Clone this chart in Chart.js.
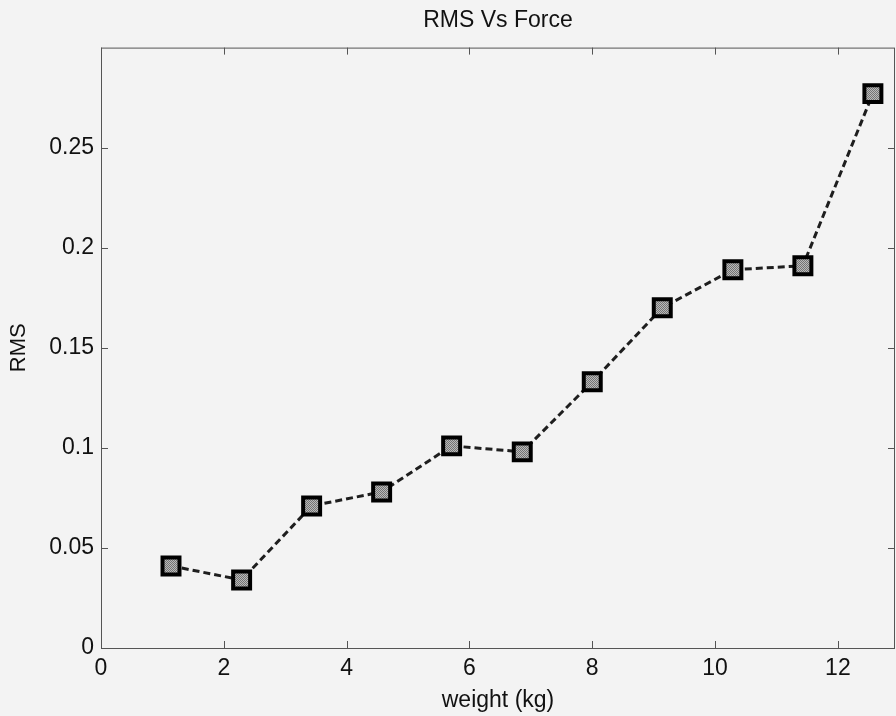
<!DOCTYPE html>
<html>
<head>
<meta charset="utf-8">
<title>RMS Vs Force</title>
<script src="https://cdn.jsdelivr.net/npm/chart.js@4/dist/chart.umd.min.js"></script>
<style>
	body{margin:0;background:#f3f3f3}
	#wrap{width:896px;height:716px}
</style>
</head>
<body>
<div id="wrap"><canvas id="chart" width="896" height="716"></canvas></div>
<script>
"use strict"

// values
var weights = [1.14, 2.29, 3.43, 4.57, 5.71, 6.86, 8.00, 9.14, 10.29, 11.43, 12.57]
var rms = [0.041, 0.034, 0.071, 0.078, 0.101, 0.098, 0.133, 0.170, 0.189, 0.191, 0.277]
var xTicks = [0, 2, 4, 6, 8, 10, 12]
var yTicks = [0, 0.05, 0.1, 0.15, 0.2, 0.25]

var font = "'Liberation Sans', Arial, sans-serif"

// dotted grey fill like the printed markers
function markerFill(){
	var c = document.createElement('canvas')
	c.width = 2; c.height = 2
	var g = c.getContext('2d')
	g.fillStyle = '#bababa'; g.fillRect(0,0,2,2)
	g.fillStyle = '#747474'; g.fillRect(0,0,1,1); g.fillRect(1,1,1,1)
	return g.createPattern(c,'repeat')
}

// matlab style box with inward ticks on all four sides
var boxPlugin = {
	id: 'box',
	afterDraw: function(chart){
		var ctx = chart.ctx, a = chart.chartArea,
		xs = chart.scales.x, ys = chart.scales.y, len = 7
		ctx.save()
		ctx.strokeStyle = '#555'
		ctx.lineWidth = 1
		ctx.strokeRect(a.left+0.5, a.top+0.5, a.right-a.left-1, a.bottom-a.top)
		ctx.beginPath()
		xTicks.forEach(function(v){
			var px = Math.round(xs.getPixelForValue(v))+0.5
			ctx.moveTo(px, a.bottom); ctx.lineTo(px, a.bottom-len)
			ctx.moveTo(px, a.top); ctx.lineTo(px, a.top+len)
		})
		yTicks.forEach(function(v){
			var py = Math.round(ys.getPixelForValue(v))+0.5
			ctx.moveTo(a.left, py); ctx.lineTo(a.left+len, py)
			ctx.moveTo(a.right, py); ctx.lineTo(a.right-len, py)
		})
		ctx.stroke()
		ctx.restore()
	}
}

var points = weights.map(function(w,i){ return {x: w, y: rms[i]} })

new Chart(document.getElementById('chart'), {
	type: 'line',
	data: {
		datasets: [{
			data: points,
			borderColor: '#1e1e1e',
			borderWidth: 3,
			borderDash: [7,4],
			fill: false,
			tension: 0,
			pointStyle: 'rect',
			pointRadius: 12,
			pointBorderWidth: 4,
			pointBorderColor: '#000',
			pointBackgroundColor: markerFill()
		}]
	},
	options: {
		responsive: false,
		animation: false,
		layout: {autoPadding: false, padding: {left: 0, right: 1, top: 0, bottom: 0}},
		plugins: {
			legend: {display: false},
			tooltip: {enabled: false},
			title: {
				display: true,
				fullSize: false,
				text: 'RMS Vs Force',
				color: '#111',
				font: {family: font, size: 23, weight: 'normal'},
				padding: {top: 7, bottom: 13}
			}
		},
		scales: {
			x: {
				type: 'linear',
				min: 0,
				max: 12.93,
				afterFit: function(s){ s.height = 68; s.paddingLeft = 0; s.paddingRight = 0 },
				afterBuildTicks: function(s){ s.ticks = xTicks.map(function(v){ return {value: v} }) },
				grid: {display: false, drawTicks: false},
				border: {display: false},
				ticks: {color: '#111', font: {family: font, size: 23}, padding: 7, maxRotation: 0},
				title: {display: true, text: 'weight (kg)', color: '#111', font: {family: font, size: 23}, padding: {top: 0, bottom: 2}}
			},
			y: {
				min: 0,
				max: 0.3,
				afterFit: function(s){ s.width = 101; s.paddingTop = 0; s.paddingBottom = 0 },
				afterBuildTicks: function(s){ s.ticks = yTicks.map(function(v){ return {value: v} }) },
				grid: {display: false, drawTicks: false},
				border: {display: false},
				ticks: {color: '#111', font: {family: font, size: 23}, padding: 7,
					callback: function(v){ return String(v) }},
				title: {display: true, text: 'RMS', color: '#111', font: {family: font, size: 22}, padding: {top: 6, bottom: 0}}
			}
		}
	},
	plugins: [boxPlugin]
})
</script>
</body>
</html>
